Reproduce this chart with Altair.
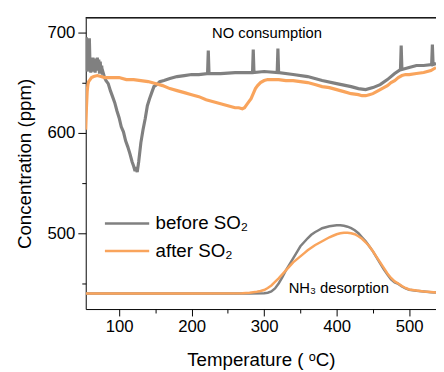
import altair as alt
import pandas as pd

# ---------- data ----------
before_no_T = [54, 55, 56, 57, 58, 59, 60, 61, 62, 63, 64, 65, 66, 67, 68, 69, 70, 71, 72, 73, 74, 75, 76, 77, 78,
               80, 82, 85, 88, 91, 94, 97, 100, 103, 106, 109, 112, 115, 118, 120, 122, 123, 125, 127, 130, 133,
               136, 139, 142, 145, 148, 152, 156, 162, 170, 180, 190, 200, 210, 222, 223, 224, 240, 260, 284,
               285, 286, 300, 318, 319, 320, 340, 360, 380, 400, 420, 430, 440, 450, 460, 470, 480, 488, 489,
               490, 500, 510, 520, 531, 532, 533, 537]
before_no_C = [662, 695, 661, 672, 663, 694, 664, 660, 673, 663, 675, 661, 674, 660, 673, 662, 675, 664, 673, 659,
               671, 661, 667, 658, 660, 655, 652, 649, 642, 636, 630, 622, 615, 606, 601, 592, 586, 579, 571, 567,
               562, 566, 561, 571, 590, 603, 614, 627, 634, 640, 646, 648, 651, 652, 654, 656, 657, 658, 658, 659,
               682, 659, 659, 660, 660, 683, 660, 661, 660, 684, 660, 658, 656, 652, 649, 646, 644, 643, 645, 648,
               653, 659, 663, 687, 663, 665, 667, 667, 668, 688, 668, 669]

after_no_T = [54, 55, 56, 57, 58, 60, 62, 65, 70, 75, 80, 90, 100, 110, 120, 130, 140, 150, 160, 170, 180, 190,
              200, 210, 220, 230, 240, 250, 255, 260, 265, 270, 273, 276, 279, 282, 285, 288, 291, 295, 300, 305,
              310, 320, 330, 340, 350, 360, 370, 380, 390, 400, 410, 420, 430, 435, 440, 445, 450, 455, 460, 465,
              470, 475, 480, 485, 490, 495, 500, 510, 520, 530, 537]
after_no_C = [603, 625, 641, 648, 651, 653, 655, 656, 657, 656, 655, 655, 655, 653, 653, 652, 651, 649, 647, 644,
              642, 640, 638, 636, 633, 631, 629, 627, 626, 625, 625, 624, 625, 628, 631, 634, 639, 644, 647, 650,
              652, 653, 653, 653, 652, 652, 651, 650, 648, 646, 645, 643, 641, 639, 638, 637, 637, 638, 639, 641,
              643, 645, 647, 650, 652, 655, 657, 658, 658, 659, 660, 662, 665]

before_nh3_T = [54, 100, 200, 280, 300, 305, 310, 315, 320, 325, 330, 335, 340, 345, 350, 355, 360, 365, 370, 375,
                380, 385, 390, 395, 400, 405, 410, 415, 420, 425, 430, 435, 440, 445, 450, 455, 460, 465, 470, 475,
                480, 485, 490, 495, 500, 510, 520, 530, 537]
before_nh3_C = [440, 440, 440, 440, 440.3, 440.8, 442, 445, 450, 456, 463, 469, 475, 481, 487, 491, 495, 498.5,
                501, 503, 505, 506, 507, 507.5, 508, 508, 507.5, 506.5, 505, 503, 500, 496, 492, 487, 482, 476,
                470, 464, 459, 454, 451, 449.5, 447, 445, 443.8, 442.8, 442, 441.3, 441]

after_nh3_T = [54, 100, 200, 270, 280, 290, 295, 300, 305, 310, 315, 320, 325, 330, 335, 340, 345, 350, 355, 360,
               365, 370, 375, 380, 385, 390, 395, 400, 405, 410, 415, 420, 425, 430, 435, 440, 445, 450, 455, 460,
               465, 470, 475, 480, 485, 490, 495, 500, 510, 520, 530, 537]
after_nh3_C = [440, 440, 440, 440.3, 440.8, 441.8, 442.5, 443.5, 445.5, 448, 451.5, 455, 459, 463, 467, 471, 474,
               477, 480, 483, 485.5, 488, 490, 492, 494, 496, 497.5, 499, 500, 500.5, 500.5, 500, 499, 497, 494.5,
               491, 487, 482, 476.5, 471, 465.5, 460, 455.5, 452, 450, 447.5, 445.5, 444, 443, 442, 441.4, 441]

conditions = ["before SO₂", "after SO₂"]
colors = ["#808080", "#F9A45C"]

note_text = ["NO consumption", "NH₃ desorption"]
note_T = [304, 403]
note_C = [699, 445]

x_major = [100, 200, 300, 400, 500]
x_minor = [150, 250, 350, 450]
y_major = [500, 600, 700]
y_minor = [450, 550, 650]

# ---------- tables ----------
def frame(T, C, cond, gas):
    return pd.DataFrame({"T": T, "C": C, "cond": cond, "gas": gas})

before_df = pd.concat([frame(before_no_T, before_no_C, conditions[0], "NO"),
                       frame(before_nh3_T, before_nh3_C, conditions[0], "NH3")])
after_df = pd.concat([frame(after_no_T, after_no_C, conditions[1], "NO"),
                      frame(after_nh3_T, after_nh3_C, conditions[1], "NH3")])
notes_df = pd.DataFrame({"T": note_T, "C": note_C, "label": note_text})

FONT = "Liberation Sans"
W, H = 356, 296

xscale = alt.Scale(domain=[54, 537], nice=False, zero=False)
yscale = alt.Scale(domain=[424.5, 714.5], nice=False, zero=False)
cscale = alt.Scale(domain=conditions, range=colors)
wscale = alt.Scale(domain=["NO", "NH3"], range=[3.2, 2.5])

x_axis = alt.Axis(values=x_major, title="Temperature ( ᵒC)", orient="bottom", tickSize=7,
                  labelFontSize=17, titleFontSize=19, titleFontWeight="normal", labelPadding=3,
                  titlePadding=16, grid=False, domainColor="black", tickColor="black",
                  labelColor="black", titleColor="black", labelFont=FONT, titleFont=FONT,
                  labelFlush=False)
y_axis = alt.Axis(values=y_major, title="Concentration (ppm)", orient="left", tickSize=8,
                  labelFontSize=17, titleFontSize=19, titleFontWeight="normal", labelPadding=3,
                  titlePadding=13, grid=False, domainColor="black", tickColor="black",
                  labelColor="black", titleColor="black", labelFont=FONT, titleFont=FONT,
                  labelFlush=False)
x_minor_axis = alt.Axis(values=x_minor, orient="bottom", labels=False, domain=False, tickSize=4,
                        grid=False, tickColor="black", title=None)
y_minor_axis = alt.Axis(values=y_minor, orient="left", labels=False, domain=False, tickSize=4,
                        grid=False, tickColor="black", title=None)

legend = alt.Legend(title=None, orient="none", legendX=18, legendY=195, symbolType="stroke",
                    symbolSize=2025, symbolStrokeWidth=2.5, labelFontSize=19, labelFont=FONT,
                    labelColor="black", clipHeight=28, labelOffset=5, rowPadding=0, padding=0)

gray = alt.Chart(before_df).mark_line(clip=True).encode(
    x=alt.X("T:Q", scale=xscale, axis=x_axis),
    y=alt.Y("C:Q", scale=yscale, axis=y_axis),
    color=alt.Color("cond:N", scale=cscale, legend=legend),
    strokeWidth=alt.StrokeWidth("gas:N", scale=wscale, legend=None),
    detail="gas:N",
)
orange = alt.Chart(after_df).mark_line(clip=True).encode(
    x=alt.X("T:Q", scale=xscale, axis=None),
    y=alt.Y("C:Q", scale=yscale, axis=None),
    color=alt.Color("cond:N", scale=cscale, legend=legend),
    strokeWidth=alt.StrokeWidth("gas:N", scale=wscale, legend=None),
    detail="gas:N",
)
notes = alt.Chart(notes_df).mark_text(fontSize=15, font=FONT, color="black", align="center",
                                       baseline="middle").encode(
    x=alt.X("T:Q", scale=xscale, axis=x_minor_axis),
    y=alt.Y("C:Q", scale=yscale, axis=y_minor_axis),
    text="label:N",
)
top_line = alt.Chart(notes_df).mark_rule(color="black", strokeWidth=1).encode(
    x=alt.value(0), x2=alt.value(W), y=alt.value(0)
)

chart = alt.layer(gray, orange, notes, top_line).resolve_axis(
    x="independent", y="independent"
).properties(
    width=W, height=H,
    autosize=alt.AutoSizeParams(type="none"),
    padding={"left": 79, "top": 7, "right": 0, "bottom": 62},
).configure_view(stroke=None)

chart.save("out.html", embed_options={"renderer": "svg", "actions": False})
